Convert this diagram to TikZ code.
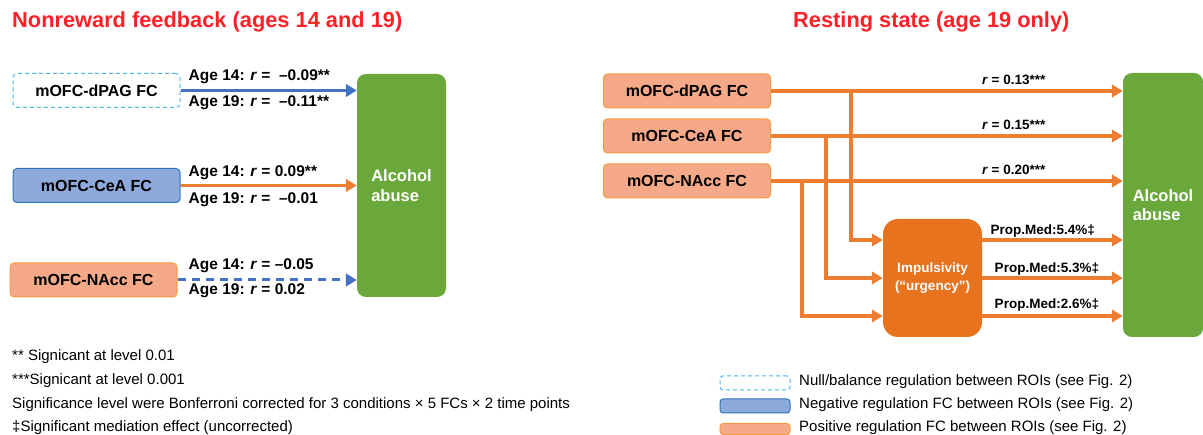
\documentclass[tikz,border=0pt]{standalone}
\usepackage{fontspec}
\setmainfont{Liberation Sans}
\usetikzlibrary{arrows.meta}
\definecolor{titlered}{HTML}{FF2028}
\definecolor{nullblue}{HTML}{4DB8E8}
\definecolor{negfill}{HTML}{8EA9DB}
\definecolor{negdraw}{HTML}{2F75B5}
\definecolor{posfill}{HTML}{F6A988}
\definecolor{posdraw}{HTML}{F79A3C}
\definecolor{arrblue}{HTML}{4472C4}
\definecolor{arrorange}{HTML}{ED7D31}
\definecolor{impfill}{HTML}{E8731F}
\definecolor{alcgreen}{HTML}{6AA83B}

\begin{document}
\begin{tikzpicture}[x=1pt, y=-1pt,
	fcbox/.style={rounded corners=4pt, minimum width=167pt, minimum height=34pt, inner sep=0pt, line width=1pt, font=\fontsize{16}{19}\selectfont\bfseries},
	nullbox/.style={fcbox, draw=nullblue, dash pattern=on 4pt off 3pt, fill=white},
	negbox/.style={fcbox, draw=negdraw, fill=negfill},
	posbox/.style={fcbox, draw=posdraw, fill=posfill},
	alcbox/.style={rounded corners=9pt, fill=alcgreen, text=white, align=left, inner sep=0pt, font=\fontsize{16.5}{19.5}\selectfont\bfseries},
	impbox/.style={rounded corners=15pt, fill=impfill, text=white, align=center, minimum width=99pt, minimum height=118pt, inner sep=0pt, font=\fontsize{13.5}{18}\selectfont\bfseries},
	arr/.style={line width=3.8pt, -{Triangle[length=11pt, width=12.5pt]}},
	bluearrow/.style={arr, draw=arrblue},
	orarrow/.style={arr, draw=arrorange},
	titletext/.style={anchor=west, inner sep=0pt, text=titlered, font=\fontsize{21.8}{26}\selectfont\bfseries},
	agelabel/.style={anchor=west, inner sep=0pt, font=\fontsize{15.5}{18}\selectfont\bfseries},
	rlabel/.style={inner sep=0pt, font=\fontsize{13.5}{16}\selectfont\bfseries},
	notetext/.style={anchor=west, inner sep=0pt, font=\fontsize{15}{18}\selectfont},
	legbox/.style={rounded corners=3pt, minimum width=70pt, minimum height=14pt, inner sep=0pt, line width=1pt}]
	\useasboundingbox (0,0) rectangle (1203,435);

	% titles
	\node[titletext] (t1) at (12,22) {Nonreward feedback (ages 14 and 19)};
	\node[titletext] (t2) at (793,22) {Resting state (age 19 only)};

	% nonreward feedback
	\node[nullbox] (dpagL) at (96.5,90.5) {mOFC-dPAG FC};
	\node[negbox] (ceaL) at (96.5,185.5) {mOFC-CeA FC};
	\node[posbox] (naccL) at (93.5,280) {mOFC-NAcc FC};
	\node[alcbox, minimum width=89pt, minimum height=223pt] (alcL) at (401.5,185.5) {Alcohol\\abuse};

	\draw[bluearrow] (dpagL.east) -- (dpagL.east -| alcL.west);
	\draw[orarrow] (ceaL.east) -- (ceaL.east -| alcL.west);
	\draw[bluearrow, line width=3pt, dash pattern=on 8pt off 6pt] (naccL.east) -- (naccL.east -| alcL.west);

	\node[agelabel] (d14) at ([xshift=8pt,yshift=14pt]dpagL.east) {Age 14: \textit{r} =\ \ –0.09**};
	\node[agelabel] (d19) at ([xshift=8pt,yshift=-12pt]dpagL.east) {Age 19: \textit{r} =\ \ –0.11**};
	\node[agelabel] (c14) at ([xshift=8pt,yshift=13pt]ceaL.east) {Age 14: \textit{r} = 0.09**};
	\node[agelabel] (c19) at ([xshift=8pt,yshift=-14pt]ceaL.east) {Age 19: \textit{r} =\ \ –0.01};
	\node[agelabel] (n14) at ([xshift=11pt,yshift=14pt]naccL.east) {Age 14: \textit{r} = –0.05};
	\node[agelabel] (n19) at ([xshift=11pt,yshift=-11pt]naccL.east) {Age 19: \textit{r} = 0.02};

	% resting state
	\node[posbox] (dpagR) at (687,91) {mOFC-dPAG FC};
	\node[posbox] (ceaR) at (687,136) {mOFC-CeA FC};
	\node[posbox] (naccR) at (687,181) {mOFC-NAcc FC};
	\node[impbox] (imp) at (932.5,278) {Impulsivity\\(“urgency”)};
	\node[alcbox, minimum width=80pt, minimum height=264pt] (alcR) at (1163,205) {Alcohol\\abuse};

	\coordinate (i1) at ([yshift=38pt]imp.west);
	\coordinate (i2) at (imp.west);
	\coordinate (i3) at ([yshift=-38pt]imp.west);
	\coordinate (o1) at ([yshift=38pt]imp.east);
	\coordinate (o2) at (imp.east);
	\coordinate (o3) at ([yshift=-38pt]imp.east);

	\draw[orarrow] ([xshift=80pt]dpagR.east) |- (i1);
	\draw[orarrow] ([xshift=55pt]ceaR.east) |- (i2);
	\draw[orarrow] ([xshift=31pt]naccR.east) |- (i3);

	\draw[orarrow] (dpagR.east) -- (dpagR.east -| alcR.west) node[rlabel, pos=0.69, yshift=11pt] (r1) {\textit{r} = 0.13***};
	\draw[orarrow] (ceaR.east) -- (ceaR.east -| alcR.west) node[rlabel, pos=0.69, yshift=11pt] (r2) {\textit{r} = 0.15***};
	\draw[orarrow] (naccR.east) -- (naccR.east -| alcR.west) node[rlabel, pos=0.69, yshift=11pt] (r3) {\textit{r} = 0.20***};

	\draw[orarrow] (o1) -- (o1 -| alcR.west) node[rlabel, pos=0.43, yshift=9pt] (p1) {Prop.Med:5.4\%‡};
	\draw[orarrow] (o2) -- (o2 -| alcR.west) node[rlabel, pos=0.46, yshift=9pt] (p2) {Prop.Med:5.3\%‡};
	\draw[orarrow] (o3) -- (o3 -| alcR.west) node[rlabel, pos=0.46, yshift=11pt] (p3) {Prop.Med:2.6\%‡};

	% notes
	\node[notetext] (n1) at (12,357) {** Signicant at level 0.01};
	\node[notetext] (n2) at (12,381) {***Signicant at level 0.001};
	\node[notetext] (n3) at (12,405) {Significance level were Bonferroni corrected for 3 conditions × 5 FCs × 2 time points};
	\node[notetext] (n4) at (12,428) {‡Significant mediation effect (uncorrected)};

	% legend
	\node[legbox, draw=nullblue, dash pattern=on 4pt off 3pt, fill=white] (lg1) at (755,383) {};
	\node[legbox, draw=negdraw, fill=negfill] (lg2) at (755,406) {};
	\node[legbox, draw=posdraw, fill=posfill, minimum height=11pt] (lg3) at (755,429) {};
	\node[notetext] (lt1) at (799,382) {Null/balance regulation between ROIs (see Fig. 2)};
	\node[notetext] (lt2) at (799,405) {Negative regulation FC between ROIs (see Fig. 2)};
	\node[notetext] (lt3) at (799,428) {Positive regulation FC between ROIs (see Fig. 2)};
\end{tikzpicture}
\end{document}
